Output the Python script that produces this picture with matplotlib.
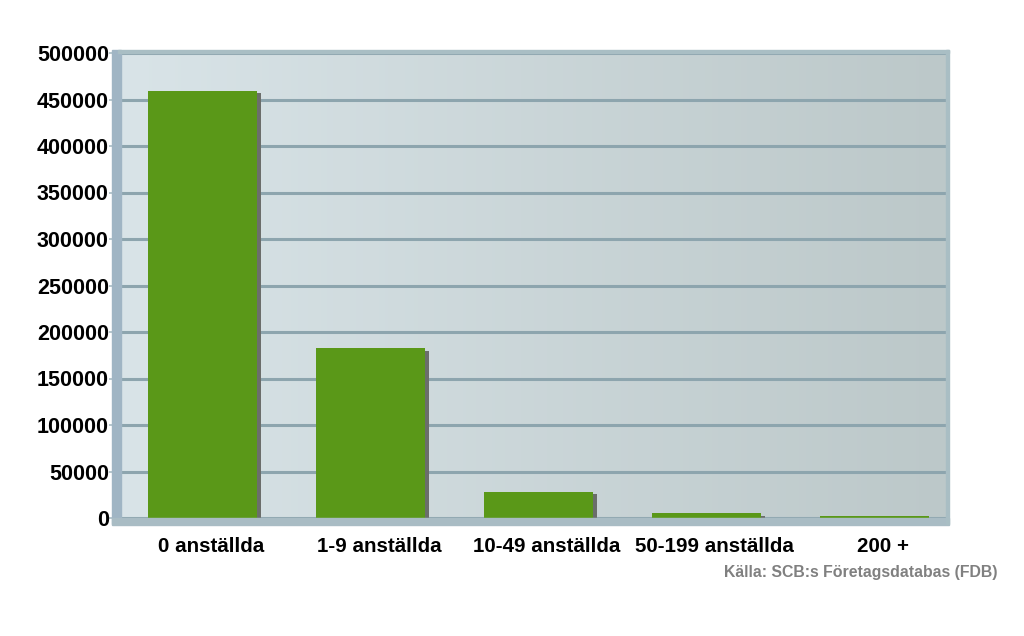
import matplotlib
matplotlib.use("Agg")
import matplotlib.pyplot as plt
import numpy as np
from matplotlib.patches import Rectangle
from matplotlib.colors import LinearSegmentedColormap

categories = ["0 anställda", "1-9 anställda", "10-49 anställda", "50-199 anställda", "200 +"]
values = [459500, 182800, 28300, 5600, 2200]
yticks = [0, 50000, 100000, 150000, 200000, 250000, 300000, 350000, 400000, 450000, 500000]
source = "Källa: SCB:s Företagsdatabas (FDB)"

W, H = 1024, 636
fig = plt.figure(figsize=(W / 100, H / 100), dpi=100)
fig.patch.set_facecolor("white")

L, R, T, B = 120, 948, 53, 518
ax = fig.add_axes([L / W, (H - B) / H, (R - L) / W, (B - T) / H])

# gradient background
cmap = LinearSegmentedColormap.from_list("bg", ["#d9e4e8", "#bcc8c9"])
grad = np.linspace(0, 1, 256).reshape(1, -1)
ax.imshow(grad, extent=[0, 1, 0, 1], transform=ax.transAxes, cmap=cmap,
          aspect="auto", zorder=0)

x = np.arange(len(categories))
bw = 0.65
dx = 0.024
ax.bar(x + dx, [max(v - 3000, 0) for v in values], width=bw, color="#6b6e6b", zorder=2)
ax.bar(x, values, width=bw, color="#5a9818", zorder=3)

ax.set_xlim(-0.491, 4.4375)
ax.set_ylim(0, 500000)
ax.set_yticks(yticks)
ax.set_yticklabels([str(t) for t in yticks], fontsize=15.5, fontweight="bold",
                   family="Liberation Sans")
ax.set_xticks(x + 0.05)
ax.set_xticklabels(categories, fontsize=14.8, fontweight="bold", family="Liberation Sans")
ax.tick_params(axis="y", length=8, width=1.2, color="#a9bcc4", pad=0)
ax.tick_params(axis="x", length=0, pad=14)
ax.yaxis.grid(True, color="#8da5ae", linewidth=2.2, zorder=1)
ax.set_axisbelow(True)
for s in ax.spines.values():
    s.set_visible(False)

# 3D frame: left wall, floor, top and right borders (figure pixel coords)
def frect(x0, y0, x1, y1, color, z=5):
    fig.patches.append(Rectangle((x0 / W, 1 - y1 / H), (x1 - x0) / W, (y1 - y0) / H,
                                 transform=fig.transFigure, color=color, zorder=z))

frect(112, 50, 121, 524, "#a0b5c4")
frect(112, 518, 949, 525, "#a9bcc4")
frect(118, 50, 949, 53, "#a9bec4")
frect(946, 50, 949, 524, "#a9bec4")

fig.text(997 / W, 1 - 572 / H, source, ha="right", va="center", fontsize=11.4,
         fontweight="bold", color="#808080", family="Liberation Sans")

fig.savefig("out.png", dpi=100)
